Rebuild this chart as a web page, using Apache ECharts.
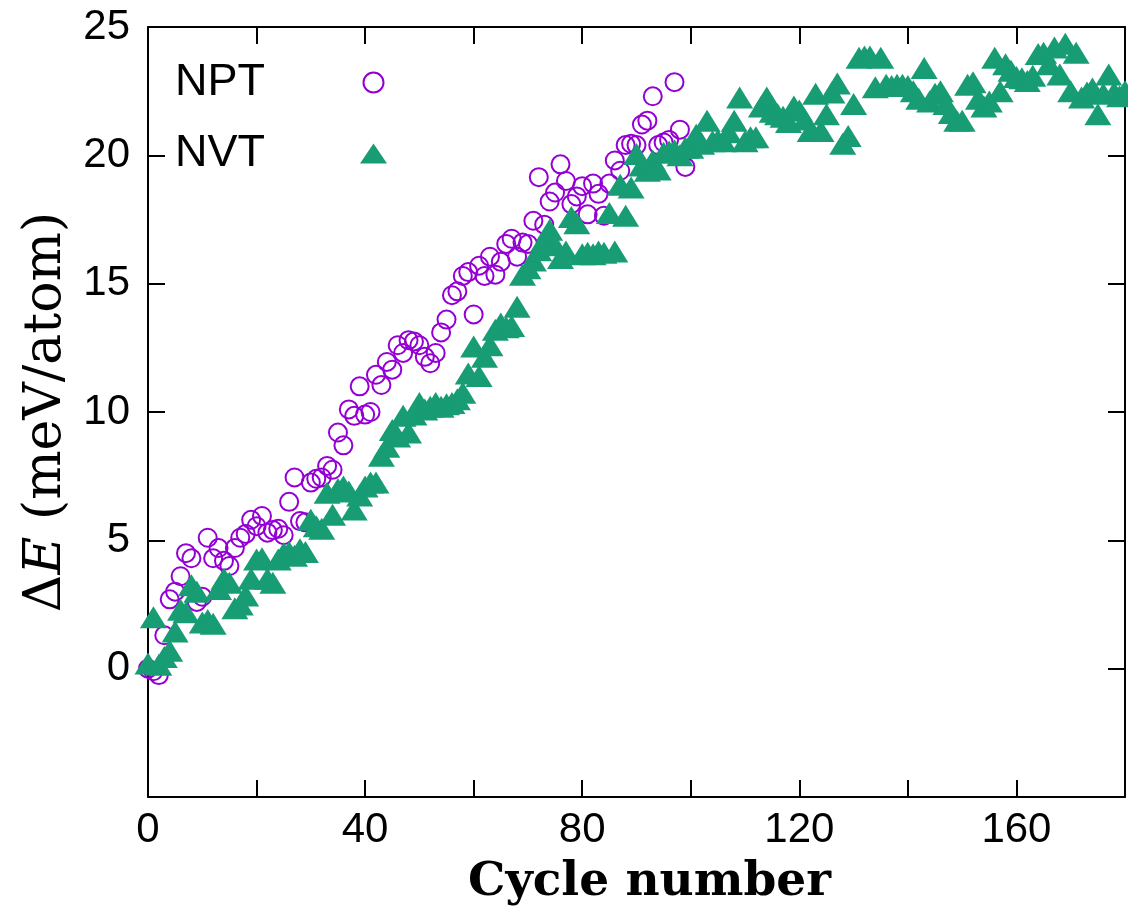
<!DOCTYPE html>
<html>
<head>
<meta charset="utf-8">
<script src="https://cdn.jsdelivr.net/npm/echarts@6/dist/echarts.min.js"></script>
<style>
html,body{margin:0;padding:0;background:#fff;}
#chart{width:1128px;height:912px;}
</style>
</head>
<body>
<div id="chart"></div>
<script>
// NPT: energy difference (meV/atom) for cycles 0..99
var nptValues = [
  0.0, -0.1, -0.25, 1.3, 2.7, 3.0, 3.6, 4.5, 4.3, 2.6,
  2.8, 5.1, 4.3, 4.7, 4.2, 4.0, 4.7, 5.1, 5.25, 5.8,
  5.55, 5.95, 5.3, 5.4, 5.45, 5.2, 6.5, 7.45, 5.75, 5.7,
  7.25, 7.4, 7.45, 7.9, 7.75, 9.2, 8.7, 10.1, 9.85, 11.0,
  9.9, 10.0, 11.45, 11.05, 11.95, 11.65, 12.6, 12.3, 12.8, 12.75,
  12.6, 12.15, 11.9, 12.3, 13.1, 13.6, 14.55, 14.7, 15.3, 15.45,
  13.8, 15.7, 15.3, 16.05, 15.35, 15.85, 16.55, 16.75, 16.05, 16.6,
  16.55, 17.45, 19.15, 17.3, 18.2, 18.55, 19.65, 19.0, 18.1, 18.4,
  18.8, 17.7, 18.9, 18.5, 17.65, 18.9, 19.8, 19.4, 20.4, 20.45,
  20.4, 21.2, 21.35, 22.3, 20.4, 20.5, 20.6, 22.85, 21.0, 19.55
];
// NVT: energy difference (meV/atom) for cycles 0..180
var nvtValues = [
  0.2, 2.0, 0.15, 0.45, 0.7, 1.45, 2.3, 2.2, 3.25, 3.0,
  1.8, 1.9, 1.75, 3.1, 3.5, 3.35, 2.35, 2.5, 2.85, 3.5,
  4.25, 4.3, 3.5, 3.35, 4.25, 4.5, 4.55, 4.4, 4.65, 4.55,
  5.8, 5.55, 5.45, 6.85, 6.0, 7.0, 7.1, 6.9, 6.2, 6.75,
  7.1, 7.25, 7.25, 8.3, 8.65, 9.3, 9.05, 9.85, 9.2, 9.9,
  10.35, 10.1, 10.2, 10.35, 10.2, 10.3, 10.35, 10.5, 10.75, 11.5,
  12.55, 11.4, 12.15, 12.6, 13.2, 13.45, 13.3, 13.35, 14.1, 15.35,
  15.6, 15.9, 16.3, 16.7, 17.1, 16.5, 16.0, 16.25, 17.6, 17.35,
  16.15, 16.2, 16.15, 16.25, 16.2, 17.75, 16.25, 18.85, 17.65, 18.75,
  20.05, 19.6, 19.4, 19.8, 19.45, 20.1, 20.15, 20.2, 20.0, 20.3,
  20.3, 20.8, 20.45, 21.35, 20.55, 20.6, 20.55, 20.9, 21.35, 22.25,
  20.55, 20.7, 20.7, 21.9, 22.25, 21.7, 21.6, 21.5, 21.3, 21.9,
  21.75, 21.4, 20.95, 22.4, 20.95, 21.6, 22.45, 22.8, 20.45, 20.75,
  22.0, 23.8, 23.85, 23.85, 22.65, 23.8, 22.75, 22.7, 22.75, 22.75,
  22.7, 22.5, 22.2, 23.4, 22.1, 22.4, 22.5, 22.0, 21.65, 21.35,
  21.35, 22.75, 22.85, 22.2, 21.9, 22.1, 23.8, 22.5, 23.55, 23.3,
  23.05, 23.0, 22.9, 23.1, 23.95, 24.0, 23.55, 24.2, 23.15, 24.35,
  22.5, 24.0, 22.25, 22.45, 22.6, 21.6, 22.4, 23.15, 22.45, 22.3,
  22.5
];
var xTicks = [0, 40, 80, 120, 160];
var yTicks = [0, 5, 10, 15, 20, 25];
var seriesNames = ['NPT', 'NVT'];

var nptData = nptValues.map(function (v, i) { return [i, v]; });
var nvtData = nvtValues.map(function (v, i) { return [i, v]; });

var chart = echarts.init(document.getElementById('chart'), null, {renderer: 'canvas'});
var labelFont = 'Liberation Sans, Arial, sans-serif';
var axisLineStyle = {color: '#000', width: 2};
var tickStyle = {color: '#000', width: 2};

chart.setOption({
  animation: false,
  backgroundColor: '#fff',
  grid: {left: 148, right: 3, top: 27, bottom: 115, containLabel: false},
  legend: {
    orient: 'vertical',
    left: 170,
    top: 55,
    align: 'right',
    itemGap: 26,
    itemWidth: 27,
    itemHeight: 20,
    data: seriesNames,
    formatter: function (n) { return '{t|' + n + '}'; },
    textStyle: {
      rich: {
        t: {fontFamily: labelFont, fontSize: 45, color: '#000', padding: [0, 90, 0, 0]}
      }
    }
  },
  xAxis: [{
    type: 'value', min: 0, max: 180, interval: 20, position: 'bottom',
    axisLine: {show: true, onZero: false, lineStyle: axisLineStyle},
    axisTick: {show: true, inside: true, length: 17, lineStyle: tickStyle},
    splitLine: {show: false},
    axisLabel: {
      margin: 12, fontFamily: labelFont, fontSize: 42, color: '#000',
      formatter: function (v) { return xTicks.indexOf(v) >= 0 ? String(v) : ''; }
    },
    name: 'Cycle number',
    nameLocation: 'middle',
    nameGap: 62,
    nameTextStyle: {fontFamily: 'DejaVu Serif, serif', fontWeight: 'bold', fontSize: 47, color: '#000', padding: [0, 0, 0, 26]}
  }, {
    type: 'value', min: 0, max: 180, interval: 20, position: 'top',
    axisLine: {show: true, onZero: false, lineStyle: axisLineStyle},
    axisTick: {show: true, inside: true, length: 17, lineStyle: tickStyle},
    splitLine: {show: false},
    axisLabel: {show: false}
  }],
  yAxis: [{
    type: 'value', min: -5, max: 25, interval: 5, position: 'left',
    axisLine: {show: true, onZero: false, lineStyle: axisLineStyle},
    axisTick: {show: true, inside: true, length: 17, lineStyle: tickStyle},
    splitLine: {show: false},
    axisLabel: {
      margin: 18, fontFamily: labelFont, fontSize: 42, color: '#000',
      formatter: function (v) { return yTicks.indexOf(v) >= 0 ? String(v) : ''; }
    },
    name: '{d|\u0394}{e|E}{d| (meV/atom)}',
    nameLocation: 'middle',
    nameGap: 74,
    nameTextStyle: {
      color: '#000',
      rich: {
        d: {fontFamily: 'DejaVu Serif, serif', fontSize: 52, color: '#000'},
        e: {fontFamily: 'DejaVu Serif, serif', fontSize: 52, fontStyle: 'italic', color: '#000'}
      }
    }
  }, {
    type: 'value', min: -5, max: 25, interval: 5, position: 'right',
    axisLine: {show: true, onZero: false, lineStyle: axisLineStyle},
    axisTick: {show: true, inside: true, length: 17, lineStyle: tickStyle},
    splitLine: {show: false},
    axisLabel: {show: false}
  }],
  series: [{
    name: seriesNames[0],
    type: 'scatter',
    xAxisIndex: 0, yAxisIndex: 0,
    symbol: 'circle',
    symbolSize: 18,
    clip: false,
    itemStyle: {color: 'rgba(255,255,255,0)', borderColor: '#9400d3', borderWidth: 2, opacity: 1},
    data: nptData,
    z: 2
  }, {
    name: seriesNames[1],
    type: 'scatter',
    xAxisIndex: 0, yAxisIndex: 0,
    symbol: 'triangle',
    symbolSize: [27, 22],
    clip: false,
    itemStyle: {color: '#179c74', borderWidth: 0, opacity: 1},
    data: nvtData,
    z: 3
  }]
});
</script>
</body>
</html>
